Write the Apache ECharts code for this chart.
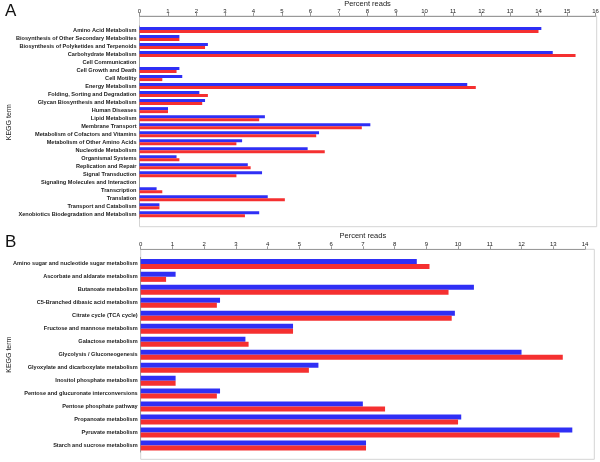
<!DOCTYPE html>
<html>
<head>
<meta charset="utf-8">
<script src="https://cdn.jsdelivr.net/npm/echarts@6/dist/echarts.min.js"></script>
<style>html,body{margin:0;padding:0;background:#fff}#c{width:600px;height:462px}</style>
</head>
<body>
<div id="c"></div>
<script>
const catsA = ["Amino Acid Metabolism","Biosynthesis of Other Secondary Metabolites","Biosynthesis of Polyketides and Terpenoids","Carbohydrate Metabolism","Cell Communication","Cell Growth and Death","Cell Motility","Energy Metabolism","Folding, Sorting and Degradation","Glycan Biosynthesis and Metabolism","Human Diseases","Lipid Metabolism","Membrane Transport","Metabolism of Cofactors and Vitamins","Metabolism of Other Amino Acids","Nucleotide Metabolism","Organismal Systems","Replication and Repair","Signal Transduction","Signaling Molecules and Interaction","Transcription","Translation","Transport and Catabolism","Xenobiotics Biodegradation and Metabolism"];
const blueA = [14.1,1.4,2.4,14.5,0,1.4,1.5,11.5,2.1,2.3,1.0,4.4,8.1,6.3,3.6,5.9,1.3,3.8,4.3,0,0.6,4.5,0.7,4.2];
const redA  = [14.0,1.4,2.3,15.3,0,1.3,0.8,11.8,2.4,2.2,1.0,4.2,7.8,6.2,3.4,6.5,1.4,3.9,3.4,0,0.8,5.1,0.7,3.7];

const catsB = ["Amino sugar and nucleotide sugar metabolism","Ascorbate and aldarate metabolism","Butanoate metabolism","C5-Branched dibasic acid metabolism","Citrate cycle (TCA cycle)","Fructose and mannose metabolism","Galactose metabolism","Glycolysis / Gluconeogenesis","Glyoxylate and dicarboxylate metabolism","Inositol phosphate metabolism","Pentose and glucuronate interconversions","Pentose phosphate pathway","Propanoate metabolism","Pyruvate metabolism","Starch and sucrose metabolism"];
const blueB = [8.7,1.1,10.5,2.5,9.9,4.8,3.3,12.0,5.6,1.1,2.5,7.0,10.1,13.6,7.1];
const redB  = [9.1,0.8,9.7,2.4,9.8,4.8,3.4,13.3,5.3,1.1,2.4,7.7,10.0,13.2,7.1];

const ticksA = {min:0, max:16, interval:1};
const ticksB = {min:0, max:14, interval:1};

const BLUE = '#2f2ff5', RED = '#f53030';
const labelFont = {fontFamily:'Liberation Sans', fontSize:5.6, fontWeight:'bold', color:'#222'};
const tickFont = {fontFamily:'Liberation Sans', fontSize:6, color:'#222'};

function dataX(gi, t, off, gap){
  return {gridIndex:gi, type:'value', position:'top', min:t.min, max:t.max, interval:t.interval, offset:off,
    name:'Percent reads', nameLocation:'middle', nameGap:gap, nameMoveOverlap:false,
    nameTextStyle:{fontFamily:'Liberation Sans', fontSize:7.5, color:'#222'},
    axisLine:{show:true, lineStyle:{color:'#999', width:1}},
    axisTick:{show:true, length:3, lineStyle:{color:'#999'}},
    axisLabel:{...tickFont, margin:2},
    splitLine:{show:false}};
}
function dataY(gi, cats, gap){
  return {gridIndex:gi, type:'category', data:cats, inverse:true,
    name:'KEGG term', nameLocation:'middle', nameGap:gap, nameRotate:90, nameMoveOverlap:false,
    nameTextStyle:{fontFamily:'Liberation Sans', fontSize:7, color:'#222'},
    axisLine:{show:true, lineStyle:{color:'#999'}},
    axisTick:{show:false},
    axisLabel:{...labelFont, margin:3, interval:0}};
}
function frameX(gi){ return {gridIndex:gi, type:'value', show:false, min:0, max:1}; }
function frameY(gi){ return {gridIndex:gi, type:'value', show:false, min:0, max:1}; }

const gridBase = {containLabel:false, outerBoundsMode:'none'};

const chart = echarts.init(document.getElementById('c'), null, {renderer:'canvas'});
chart.setOption({
  animation:false,
  backgroundColor:'#fff',
  title:[
    {text:'A', left:0, top:-2, textStyle:{fontFamily:'Liberation Sans', fontSize:17, fontWeight:'normal', color:'#111'}},
    {text:'B', left:0, top:229, textStyle:{fontFamily:'Liberation Sans', fontSize:17, fontWeight:'normal', color:'#111'}}
  ],
  grid:[
    {...gridBase, left:139.5, top:26, width:456, height:192.3},
    {...gridBase, left:140.7, top:257.4, width:444.3, height:194.6},
    {...gridBase, left:139.5, top:16, width:457.2, height:210.7, show:true, borderColor:'#d4d4d4', borderWidth:1, z:0},
    {...gridBase, left:140.7, top:249.3, width:453.6, height:210, show:true, borderColor:'#d4d4d4', borderWidth:1, z:0}
  ],
  xAxis:[dataX(0, ticksA, 10, 8.5), dataX(1, ticksB, 8.1, 9), frameX(2), frameX(3)],
  yAxis:[dataY(0, catsA, 127), dataY(1, catsB, 128), frameY(2), frameY(3)],
  series:[
    {type:'bar', name:'blueA', xAxisIndex:0, yAxisIndex:0, data:blueA, barWidth:3, barGap:'0%', itemStyle:{color:BLUE}},
    {type:'bar', name:'redA', xAxisIndex:0, yAxisIndex:0, data:redA, barWidth:3, barGap:'0%', itemStyle:{color:RED}},
    {type:'bar', name:'blueB', xAxisIndex:1, yAxisIndex:1, data:blueB, barWidth:5, barGap:'0%', itemStyle:{color:BLUE}},
    {type:'bar', name:'redB', xAxisIndex:1, yAxisIndex:1, data:redB, barWidth:5, barGap:'0%', itemStyle:{color:RED}}
  ]
});
</script>
</body>
</html>
